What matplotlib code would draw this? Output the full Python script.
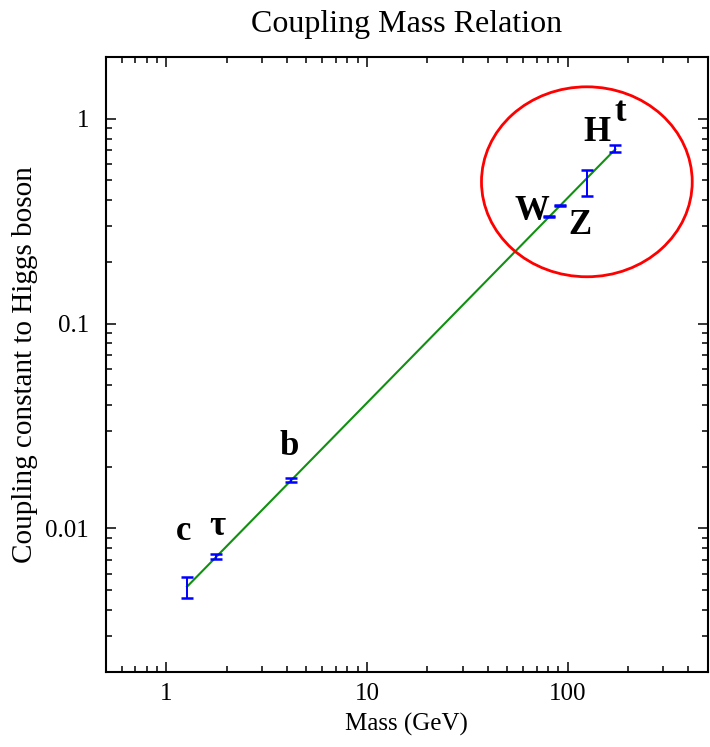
import matplotlib
matplotlib.use('Agg')
import matplotlib.pyplot as plt
from matplotlib.patches import Ellipse
from matplotlib.ticker import LogLocator, NullFormatter, FixedLocator, FixedFormatter

plt.rcParams['font.family'] = ['Liberation Serif', 'DejaVu Serif']

# particle masses (GeV) and couplings to the Higgs boson
names = ['c', 'τ', 'b', 'W', 'Z', 'H', 't']
mass = [1.27, 1.78, 4.2, 80.4, 91.2, 125.0, 173.0]
coupling = [0.0052, 0.0073, 0.0172, 0.333, 0.377, 0.49, 0.715]
coupling_err = [0.0006, 0.0002, 0.0004, 0.002, 0.002, 0.07, 0.03]

# fitted line y = m / v
fit_mass = [1.27, 173.0]
fit_coupling = [0.0052, 0.71]

x_ticks = [1, 10, 100]
x_ticklabels = ['1', '10', '100']
y_ticks = [0.01, 0.1, 1]
y_ticklabels = ['0.01', '0.1', '1']

# label offsets in pixels (dx, dy) from each point
label_offsets = [(-3, 55), (1, 30), (-2, 34), (-17, 5), (20, -20), (10, 50), (5, 36)]

fig = plt.figure(figsize=(7.1, 7.47), dpi=100)
ax = fig.add_axes([0.149, 0.1008, 0.848, 0.8229])

ax.plot(fit_mass, fit_coupling, color='#109010', lw=1.5, zorder=2)
ax.errorbar(mass, coupling, yerr=coupling_err, fmt='none', ecolor='#0000ff',
            elinewidth=1.4, capsize=4, capthick=1.8, zorder=3)

for n, m, c, off in zip(names, mass, coupling, label_offsets):
    ax.annotate(n, (m, c), xytext=off, textcoords='offset pixels',
                ha='center', va='center', fontsize=25, fontweight='bold')

ax.set_xscale('log')
ax.set_yscale('log')
ax.set_xlim(0.5, 500)
ax.set_ylim(0.002, 2)

ax.xaxis.set_major_locator(FixedLocator(x_ticks))
ax.xaxis.set_major_formatter(FixedFormatter(x_ticklabels))
ax.yaxis.set_major_locator(FixedLocator(y_ticks))
ax.yaxis.set_major_formatter(FixedFormatter(y_ticklabels))
ax.xaxis.set_minor_locator(LogLocator(base=10, subs=range(2, 10)))
ax.yaxis.set_minor_locator(LogLocator(base=10, subs=range(2, 10)))
ax.xaxis.set_minor_formatter(NullFormatter())
ax.yaxis.set_minor_formatter(NullFormatter())

ax.tick_params(which='both', direction='in', top=True, right=True, width=1.1,
               labelsize=18)
ax.tick_params(which='major', length=7)
ax.tick_params(which='minor', length=4)
ax.tick_params(axis='x', pad=8)
ax.tick_params(axis='y', pad=12)
for s in ax.spines.values():
    s.set_linewidth(1.5)

ax.add_patch(Ellipse((0.799, 0.797), 0.350, 0.309, transform=ax.transAxes,
                     fill=False, edgecolor='#ff0000', lw=2.0, zorder=4))

ax.set_xlabel('Mass (GeV)', fontsize=18, labelpad=6)
ax.set_ylabel('Coupling constant to Higgs boson', fontsize=21, labelpad=5)
ax.set_title('Coupling Mass Relation', fontsize=23, pad=18)

fig.savefig('out.png', dpi=100)
